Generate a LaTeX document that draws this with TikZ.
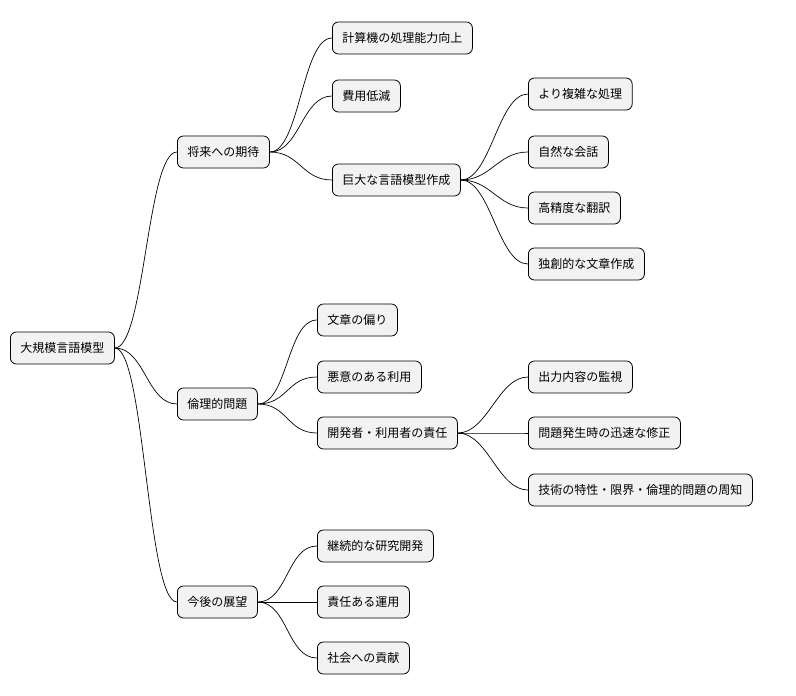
\documentclass[tikz,border=0pt]{standalone}
\usepackage{fontspec}
\setmainfont{Noto Sans CJK JP}
\begin{document}
\begin{tikzpicture}[x=1pt,y=-1pt,
  box/.style={draw=black,fill=gray!10,rounded corners=6pt,minimum height=32pt,inner xsep=10pt,anchor=west,font=\fontsize{12}{14}\selectfont,line width=0.8pt},
  lk/.style={draw=black,line width=0.7pt}]
\useasboundingbox (0,0) rectangle (796,696);
\node[box] (r) at (10,348) {大規模言語模型};
\node[box] (a) at (177,152) {将来への期待};
\node[box] (b) at (177,404) {倫理的問題};
\node[box] (c) at (177,602) {今後の展望};
\node[box] (a1) at (332,38) {計算機の処理能力向上};
\node[box] (a2) at (332,96) {費用低減};
\node[box] (a3) at (332,180) {巨大な言語模型作成};
\node[box] (a31) at (528,94) {より複雑な処理};
\node[box] (a32) at (528,152) {自然な会話};
\node[box] (a33) at (528,208) {高精度な翻訳};
\node[box] (a34) at (528,264) {独創的な文章作成};
\node[box] (b1) at (317,320) {文章の偏り};
\node[box] (b2) at (317,377) {悪意のある利用};
\node[box] (b3) at (317,433) {開発者・利用者の責任};
\node[box] (b31) at (528,377) {出力内容の監視};
\node[box] (b32) at (528,433) {問題発生時の迅速な修正};
\node[box] (b33) at (528,490) {技術の特性・限界・倫理的問題の周知};
\node[box] (c1) at (317,546) {継続的な研究開発};
\node[box] (c2) at (317,602) {責任ある運用};
\node[box] (c3) at (317,658) {社会への貢献};
\foreach \p/\c in {r/a,r/b,r/c,a/a1,a/a2,a/a3,a3/a31,a3/a32,a3/a33,a3/a34,b/b1,b/b2,b/b3,b3/b31,b3/b32,b3/b33,c/c1,c/c2,c/c3}
  \draw[lk] (\p.east) .. controls +(30,0) and +(-30,0) .. (\c.west);
\end{tikzpicture}
\end{document}
